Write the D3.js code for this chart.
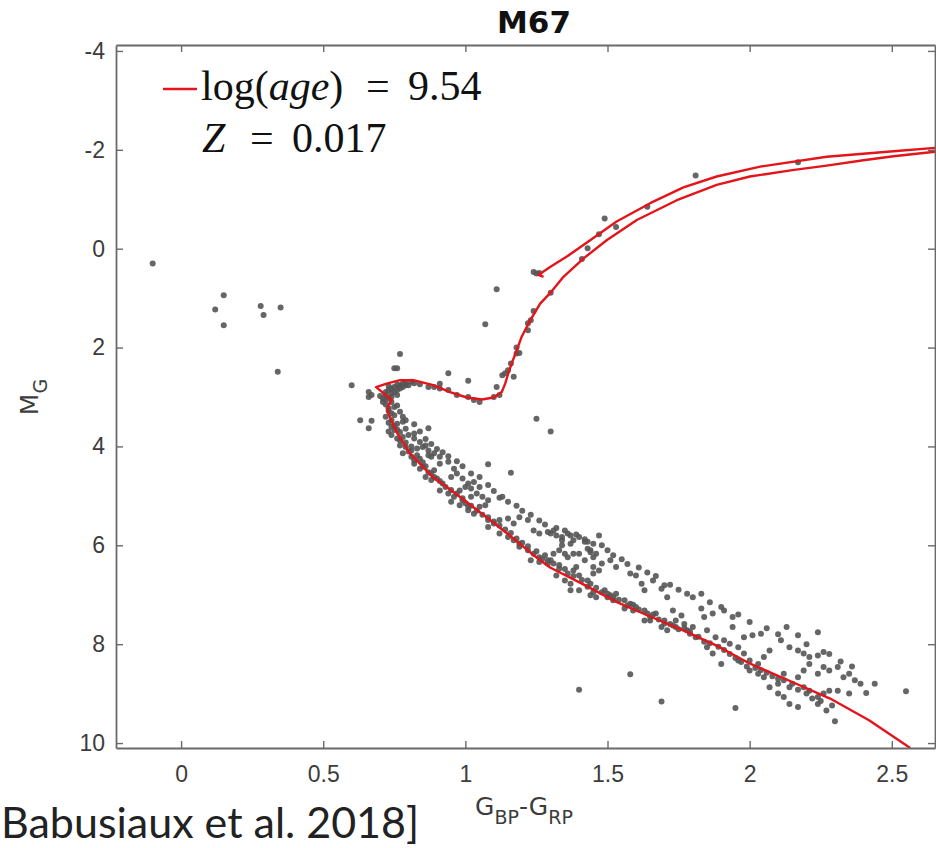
<!DOCTYPE html>
<html>
<head>
<meta charset="utf-8">
<script src="https://cdn.jsdelivr.net/npm/d3@7"></script>
<style>
  body { margin: 0; background: #fff; }
</style>
</head>
<body>
<div id="chart"></div>
<script>
// M67 colour-magnitude diagram (Gaia DR2), isochrone log(age)=9.54, Z=0.017
const title = "M67";
const xTicks = [0, 0.5, 1, 1.5, 2, 2.5];
const yTicks = [-4, -2, 0, 2, 4, 6, 8, 10];
const xDomain = [-0.229, 2.652];
const yDomain = [-4.12, 10.1];

// isochrone [G_BP-G_RP, M_G], main sequence -> RGB -> (off plot) -> AGB/clump
const isochrone = [
  [2.565, 10.10], [2.42, 9.54], [2.283, 9.10], [2.14, 8.74], [2.00, 8.39], [1.884, 8.03],
  [1.766, 7.72], [1.65, 7.44], [1.533, 7.15], [1.415, 6.79], [1.298, 6.45], [1.24, 6.20],
  [1.147, 5.76], [1.076, 5.44], [1.006, 5.13], [0.946, 4.87], [0.886, 4.62], [0.805, 4.14],
  [0.76, 3.73], [0.735, 3.41], [0.726, 3.30], [0.73, 3.16], [0.741, 3.06], [0.686, 2.80],
  [0.723, 2.73], [0.770, 2.66], [0.817, 2.66], [0.887, 2.76], [0.946, 2.90], [1.005, 3.01],
  [1.058, 3.05], [1.099, 3.01], [1.128, 2.90], [1.140, 2.73], [1.151, 2.52], [1.163, 2.32],
  [1.181, 2.05], [1.198, 1.78], [1.228, 1.45], [1.263, 1.11], [1.298, 0.90], [1.345, 0.57],
  [1.415, 0.20], [1.497, -0.17], [1.603, -0.58], [1.744, -0.98], [1.884, -1.29], [2.001, -1.46],
  [2.15, -1.59], [2.271, -1.68], [2.40, -1.79], [2.506, -1.87], [2.652, -1.96], [2.75, -2.01],
  [2.75, -2.07], [2.652, -2.04], [2.506, -1.97], [2.271, -1.86], [2.037, -1.66], [1.884, -1.46],
  [1.767, -1.24], [1.650, -0.92], [1.532, -0.55], [1.439, -0.17], [1.357, 0.16], [1.298, 0.37],
  [1.257, 0.53], [1.275, 0.57]
];

// cluster members [G_BP-G_RP, M_G]
const stars = [
  // blue stragglers and stray stars
  [-0.10, 0.30], [0.15, 0.94], [0.12, 1.23], [0.15, 1.55], [0.28, 1.16], [0.29, 1.34], [0.35, 1.19],
  [0.34, 2.49], [0.60, 2.76], [1.07, 1.53], [0.77, 2.13], [0.63, 3.47], [0.67, 3.48], [0.66, 3.63],
  [0.94, 2.52], [1.01, 2.67], [1.25, 3.44], [1.30, 3.70], [0.87, 3.63], [1.08, 4.36], [1.16, 4.53],
  [1.12, 5.04], [0.75, 2.42], [0.76, 2.42],
  // giants
  [1.81, -1.48], [1.64, -0.85], [1.49, -0.61], [1.53, -0.44], [1.47, -0.29], [1.43, -0.01], [1.41, 0.21],
  [1.24, 0.47], [1.25, 0.50], [1.26, 0.49], [1.11, 0.82], [1.30, 0.89], [1.24, 1.26], [1.23, 1.45],
  [1.22, 1.51], [1.22, 1.65], [1.18, 2.00], [1.19, 2.11], [1.16, 2.32], [1.13, 2.56], [1.17, 2.59],
  [2.17, -1.75], [1.18, 2.12], [1.15, 2.46], [1.14, 2.52],
  // faint field-like stars
  [1.40, 8.92], [1.58, 8.61], [1.69, 9.16], [1.95, 9.29], [2.55, 8.95], [2.30, 9.56], [2.44, 8.80],
  // subgiant branch
  [1.11, 2.80], [1.12, 2.96], [1.10, 3.00], [1.03, 3.06], [1.05, 3.10], [1.01, 3.00], [0.97, 2.96],
  [0.94, 2.86], [0.91, 2.83], [0.89, 2.80], [0.87, 2.80], [0.91, 2.73],
  // turnoff
  [0.72, 2.90], [0.73, 2.86], [0.74, 2.83], [0.75, 2.80], [0.77, 2.76], [0.78, 2.73], [0.79, 2.76],
  [0.80, 2.76], [0.81, 2.69], [0.72, 2.96], [0.74, 2.93], [0.75, 2.90], [0.76, 2.86], [0.77, 2.83],
  [0.78, 2.80], [0.71, 3.03], [0.71, 3.10], [0.74, 3.00], [0.76, 2.96], [0.66, 2.90], [0.67, 2.96],
  [0.66, 3.00], [0.73, 2.78], [0.76, 2.75], [0.79, 2.70], [0.82, 2.72], [0.84, 2.74], [0.70, 2.98],
  [0.72, 3.05], [0.74, 3.10], [0.73, 3.02],
  // upper main sequence
  [0.73, 3.23], [0.75, 3.20], [0.76, 3.17], [0.74, 3.33], [0.75, 3.37], [0.77, 3.30], [0.78, 3.40],
  [0.74, 3.47], [0.76, 3.54], [0.78, 3.50], [0.79, 3.47], [0.74, 3.60], [0.75, 3.67], [0.77, 3.71],
  [0.79, 3.64], [0.74, 3.77], [0.76, 3.84], [0.78, 3.81], [0.80, 3.77], [0.82, 3.74], [0.82, 3.84],
  [0.84, 3.91], [0.77, 3.98], [0.79, 4.01], [0.81, 4.08], [0.83, 4.04], [0.85, 4.01], [0.86, 3.98],
  [0.87, 4.08], [0.78, 4.14], [0.81, 4.21], [0.82, 4.28], [0.84, 4.25], [0.87, 4.18], [0.88, 4.21],
  [0.89, 4.14], [0.91, 4.21], [0.72, 3.15], [0.73, 3.28], [0.72, 3.40], [0.73, 3.52], [0.75, 3.58],
  [0.73, 3.70], [0.76, 3.66], [0.77, 3.88], [0.79, 3.92], [0.80, 4.10], [0.81, 4.00], [0.83, 4.18],
  [0.82, 3.55], [0.84, 3.70], [0.86, 3.85], [0.88, 3.95], [0.90, 4.05], [0.92, 4.12], [0.94, 4.20],
  // middle main sequence
  [0.82, 4.35], [0.84, 4.45], [0.85, 4.41], [0.87, 4.52], [0.89, 4.48], [0.91, 4.35], [0.94, 4.31],
  [0.96, 4.45], [0.86, 4.62], [0.88, 4.68], [0.90, 4.65], [0.92, 4.75], [0.95, 4.62], [0.97, 4.55],
  [0.99, 4.65], [1.01, 4.75], [1.02, 4.85], [0.91, 4.89], [0.94, 4.95], [0.96, 5.02], [0.98, 4.89],
  [1.00, 4.82], [1.03, 4.72], [1.05, 4.82], [0.95, 5.12], [0.98, 5.19], [0.99, 5.09], [1.02, 5.02],
  [1.04, 4.95], [1.06, 5.02], [1.08, 5.09], [1.01, 5.29], [1.03, 5.36], [1.05, 5.22], [1.07, 5.19],
  [1.01, 5.22], [0.85, 4.32], [0.86, 4.40], [0.88, 4.55], [0.89, 4.62], [0.91, 4.70], [0.93, 4.82],
  [0.95, 4.88], [0.97, 4.95], [0.99, 5.05], [1.00, 5.15], [1.02, 5.20], [1.04, 5.30], [1.06, 5.38],
  [0.97, 4.30], [0.99, 4.40], [1.02, 4.55], [1.05, 4.62], [1.08, 4.78], [1.10, 4.90], [1.13, 5.02],
  [1.15, 5.12], [1.18, 5.20], [1.20, 5.30], [1.23, 5.38],
  [1.08, 5.49], [1.10, 5.56], [1.12, 5.49], [1.15, 5.46], [1.17, 5.56], [1.19, 5.43], [1.22, 5.49],
  [1.24, 5.70], [1.26, 5.76], [1.29, 5.73], [1.31, 5.70], [1.34, 5.83], [1.36, 5.76], [1.38, 5.90],
  [1.40, 5.83], [1.43, 5.93], [1.45, 5.97], [1.12, 5.76], [1.15, 5.83], [1.17, 5.90], [1.19, 5.97],
  [1.22, 6.10], [1.24, 6.17], [1.26, 6.24], [1.29, 6.37], [1.31, 6.17], [1.33, 6.10], [1.36, 6.24],
  [1.38, 6.17], [1.42, 6.30], [1.44, 6.10], [1.46, 6.17], [1.19, 6.03], [1.23, 6.30], [1.26, 6.34],
  [1.29, 6.30], [1.39, 6.44], [1.45, 6.44], [1.08, 5.63], [1.08, 5.43], [1.10, 5.52], [1.12, 5.60],
  [1.14, 5.68], [1.16, 5.75], [1.18, 5.86], [1.20, 5.95], [1.22, 6.02], [1.25, 6.12], [1.27, 6.28],
  [1.28, 6.20], [1.26, 5.50], [1.28, 5.58], [1.32, 5.65], [1.35, 5.70], [1.39, 5.78], [1.42, 5.88],
  // lower main sequence
  [1.30, 5.76], [1.32, 5.80], [1.34, 5.90], [1.37, 5.80], [1.37, 5.97], [1.34, 6.00], [1.35, 6.17],
  [1.40, 6.17], [1.43, 6.07], [1.42, 5.93], [1.44, 6.14], [1.47, 5.80], [1.31, 6.37], [1.33, 6.47],
  [1.36, 6.57], [1.38, 6.51], [1.40, 6.61], [1.43, 6.71], [1.45, 6.57], [1.47, 6.51], [1.45, 6.24],
  [1.48, 6.37], [1.51, 6.30], [1.53, 6.44], [1.58, 6.57], [1.60, 6.61], [1.62, 6.78], [1.63, 6.91],
  [1.66, 6.71], [1.69, 6.88], [1.70, 6.81], [1.71, 7.05], [1.78, 6.98], [1.83, 6.98], [1.37, 6.91],
  [1.43, 6.84], [1.45, 6.95], [1.49, 6.91], [1.51, 7.01], [1.53, 6.98], [1.56, 7.11], [1.58, 7.18],
  [1.60, 7.25], [1.63, 7.32], [1.65, 7.45], [1.67, 7.38], [1.70, 7.52], [1.72, 7.59], [1.74, 7.52],
  [1.73, 7.32], [1.76, 7.42], [1.78, 7.72], [1.80, 7.65], [1.83, 7.28], [1.84, 7.45], [1.87, 7.38],
  [1.91, 7.32], [1.94, 7.45], [1.94, 7.65], [1.85, 7.72], [1.88, 7.86], [1.91, 7.92], [1.93, 7.99],
  [1.96, 8.06], [1.98, 7.86], [2.01, 7.82], [2.04, 7.79], [1.96, 8.33], [1.98, 8.19], [2.00, 8.33],
  [2.03, 8.40], [2.05, 8.26], [2.07, 8.13], [2.11, 7.92], [2.13, 7.65], [2.17, 7.82], [2.14, 8.06],
  [2.17, 8.13], [2.19, 8.19], [2.21, 8.26], [2.24, 8.23], [2.26, 8.16], [2.24, 7.76], [2.00, 8.53],
  [2.03, 8.60], [2.05, 8.67], [2.07, 8.87], [2.10, 8.80], [2.12, 8.73], [2.14, 8.87], [2.17, 8.67],
  [2.19, 8.53], [2.21, 8.40], [2.24, 8.60], [2.26, 8.46], [2.28, 8.53], [2.31, 8.46], [2.33, 8.67],
  [2.35, 8.60], [2.37, 8.73], [2.39, 8.80], [2.41, 8.99], [2.10, 9.00], [2.12, 9.07], [2.14, 9.21],
  [2.17, 9.27], [2.19, 8.87], [2.21, 8.94], [2.24, 9.07], [2.26, 9.00], [2.28, 8.94], [2.31, 8.94],
  [2.24, 9.21], [2.27, 9.34], [2.29, 9.24], [2.35, 9.00], [1.90, 8.40], [1.87, 8.19], [1.85, 8.06],
  [1.81, 7.86], [1.79, 7.79], [1.77, 7.59], [1.74, 7.65], [1.71, 7.72], [1.69, 7.65], [1.65, 7.52],
  [1.63, 7.52], [1.59, 7.32], [1.56, 7.28], [1.52, 7.11], [1.50, 7.05], [1.46, 7.05], [1.44, 7.01],
  [1.40, 6.91], [1.37, 6.78], [1.35, 6.71], [1.32, 6.61],
  [1.30, 6.30], [1.33, 6.40], [1.35, 6.48], [1.38, 6.62], [1.41, 6.70], [1.44, 6.78], [1.46, 6.86],
  [1.48, 6.95], [1.50, 6.98], [1.52, 7.05], [1.54, 7.10], [1.57, 7.22], [1.59, 7.20], [1.61, 7.30],
  [1.64, 7.38], [1.66, 7.40], [1.68, 7.50], [1.70, 7.58], [1.73, 7.62], [1.75, 7.70], [1.77, 7.68],
  [1.79, 7.75], [1.82, 7.85], [1.84, 7.95], [1.86, 7.98], [1.89, 8.05], [1.91, 8.12], [1.93, 8.20],
  [1.95, 8.28], [1.97, 8.36], [1.99, 8.45], [2.02, 8.48], [2.04, 8.52], [2.06, 8.58], [2.08, 8.65],
  [2.10, 8.70], [2.12, 8.60], [2.15, 8.80], [2.17, 8.92], [2.20, 9.00], [2.22, 9.10], [2.25, 9.15],
  [1.48, 6.00], [1.50, 6.10], [1.52, 6.20], [1.55, 6.28], [1.57, 6.38], [1.61, 6.45], [1.64, 6.55],
  [1.67, 6.62], [1.72, 6.80], [1.75, 6.90], [1.80, 7.05], [1.86, 7.15], [1.90, 7.25], [1.96, 7.40],
  [2.00, 7.55], [2.06, 7.68], [2.10, 7.80], [2.20, 8.00], [2.28, 8.20], [2.32, 8.35], [2.36, 8.45]
];

const W = 936, H = 848;
const plot = { left: 116, right: 935, top: 45, bottom: 748 };
const axisColor = "#6a6a6a";
const textColor = "#3c3c3c";

const svg = d3.select("#chart").append("svg")
  .attr("width", W)
  .attr("height", H)
  .style("font-family", "'DejaVu Sans', sans-serif");

const x = d3.scaleLinear().domain(xDomain).range([plot.left, plot.right]);
const y = d3.scaleLinear().domain(yDomain).range([plot.top, plot.bottom]);

svg.append("defs").append("clipPath").attr("id", "plotclip")
  .append("rect")
  .attr("x", plot.left).attr("y", plot.top)
  .attr("width", plot.right - plot.left).attr("height", plot.bottom - plot.top);

// stars
svg.append("g").attr("clip-path", "url(#plotclip)")
  .selectAll("circle")
  .data(stars)
  .enter()
  .append("circle")
  .attr("cx", d => x(d[0]))
  .attr("cy", d => y(d[1]))
  .attr("r", 3)
  .attr("fill", "#555")
  .attr("fill-opacity", 0.9);

// isochrone
const line = d3.line().x(d => x(d[0])).y(d => y(d[1]));
svg.append("path")
  .datum(isochrone)
  .attr("clip-path", "url(#plotclip)")
  .attr("d", line)
  .attr("fill", "none")
  .attr("stroke", "#e3151a")
  .attr("stroke-width", 2.4)
  .attr("stroke-linejoin", "round");

// axes: ticks inside on all four sides
function styleAxis(g) {
  g.select(".domain").attr("stroke", axisColor).attr("stroke-width", 1.8);
  g.selectAll(".tick line").attr("stroke", axisColor).attr("stroke-width", 1.4);
  g.selectAll(".tick text").attr("fill", textColor).style("font-size", "23px");
}

svg.append("g")
  .attr("transform", `translate(0,${plot.bottom})`)
  .call(d3.axisBottom(x).tickValues(xTicks).tickSizeInner(-7).tickSizeOuter(0).tickPadding(18).tickFormat(d => String(d)))
  .call(styleAxis);

svg.append("g")
  .attr("transform", `translate(0,${plot.top})`)
  .call(d3.axisTop(x).tickValues(xTicks).tickSizeInner(-7).tickSizeOuter(0).tickFormat(""))
  .call(styleAxis);

svg.append("g")
  .attr("transform", `translate(${plot.left},0)`)
  .call(d3.axisLeft(y).tickValues(yTicks).tickSizeInner(-7).tickSizeOuter(0).tickPadding(11).tickFormat(d => String(d)))
  .call(styleAxis);

svg.append("g")
  .attr("transform", `translate(${plot.right},0)`)
  .call(d3.axisRight(y).tickValues(yTicks).tickSizeInner(-7).tickSizeOuter(0).tickFormat(""))
  .call(styleAxis);

// title
svg.append("text")
  .attr("x", 534).attr("y", 33)
  .attr("text-anchor", "middle")
  .style("font-size", "31px")
  .style("font-weight", "bold")
  .attr("fill", "#111")
  .text(title);

// axis labels
const xl = svg.append("text")
  .attr("x", 524).attr("y", 815)
  .attr("text-anchor", "middle")
  .attr("fill", textColor)
  .style("font-size", "25px");
xl.append("tspan").text("G");
xl.append("tspan").attr("dy", 9).style("font-size", "19px").text("BP");
xl.append("tspan").attr("dy", -9).text("-G");
xl.append("tspan").attr("dy", 9).style("font-size", "19px").text("RP");

const yl = svg.append("text")
  .attr("transform", "translate(38,397) rotate(-90)")
  .attr("text-anchor", "middle")
  .attr("fill", textColor)
  .style("font-size", "25px");
yl.append("tspan").text("M");
yl.append("tspan").attr("dy", 9).style("font-size", "19px").text("G");

// legend
svg.append("line")
  .attr("x1", 163).attr("x2", 197)
  .attr("y1", 89).attr("y2", 89)
  .attr("stroke", "#e3151a")
  .attr("stroke-width", 2.4);

const serif = "'Liberation Serif', 'DejaVu Serif', serif";
const l1 = svg.append("text")
  .attr("y", 100)
  .attr("fill", "#111")
  .style("font-family", serif)
  .style("font-size", "42px");
l1.append("tspan").attr("x", 201).text("log(");
l1.append("tspan").style("font-style", "italic").text("age");
l1.append("tspan").text(")");
l1.append("tspan").attr("x", 366).text("=");
l1.append("tspan").attr("x", 408).text("9.54");

const l2 = svg.append("text")
  .attr("y", 152)
  .attr("fill", "#111")
  .style("font-family", serif)
  .style("font-size", "42px");
l2.append("tspan").attr("x", 202).style("font-style", "italic").text("Z");
l2.append("tspan").attr("x", 250).text("=");
l2.append("tspan").attr("x", 292).text("0.017");

// citation at the bottom-left
svg.append("text")
  .attr("x", 1).attr("y", 838)
  .attr("fill", "#222")
  .style("font-family", "Lato, 'Open Sans', sans-serif")
  .style("font-size", "43px")
  .text("Babusiaux et al. 2018]");
</script>
</body>
</html>
